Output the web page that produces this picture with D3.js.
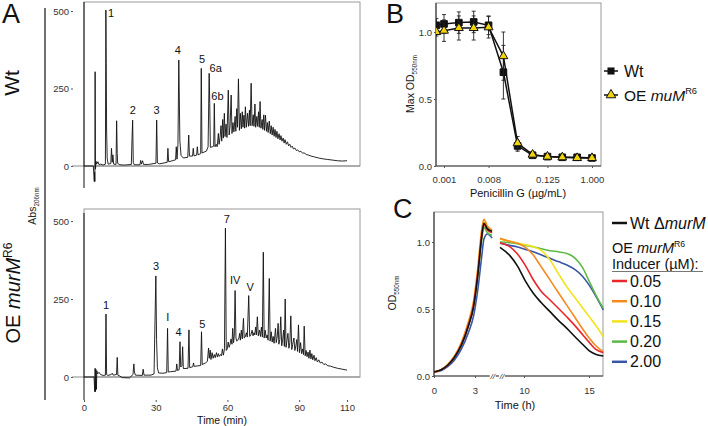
<!DOCTYPE html>
<html>
<head>
<meta charset="utf-8">
<script src="https://cdn.jsdelivr.net/npm/d3@7"></script>
<style>
  body { margin: 0; background: #fff; }
  text { font-family: "Liberation Sans", Arial, Helvetica, sans-serif; }
</style>
</head>
<body>
<svg id="fig" width="708" height="426"></svg>
<script>
// ---- panel A: HPLC traces, [time (min), Abs206nm]
const wtTrace = [
  [0,0],[3.9,0],[4.3,-50],[4.45,-20],[4.55,-50],[4.65,304],[4.8,-10],[5.0,15],[5.3,6],[5.8,14],[6.3,4],[7,6],[8,3],[8.95,6],
  [9.15,503],[9.3,330],[9.45,116],[9.7,25],[10.1,6],[11.2,8],[11.5,57],[11.8,12],[12.1,36],[12.4,6],[13.4,5],[13.65,146],[13.9,40],[14.1,8],
  [15,4],[17,3],[19.8,5],[20.1,90],[20.35,148],[20.6,12],[21,4],[23.4,4],[23.7,18],[24,6],[24.5,17],[24.9,5],[27,5],[30.1,9],[30.4,148],[30.7,10],
  [31.5,7],[33,9],[34.8,12],[35.1,57],[35.4,14],[36.5,16],[38.3,20],[38.6,62],[38.9,22],[39.3,70],[39.65,342],[40.1,80],[40.6,34],[41.5,26],
  [43.4,28],[43.8,100],[44.1,32],[45.4,32],[45.7,57],[46,33],[47.1,35],[47.4,62],[47.7,36],[48.8,40],[49.05,315],[49.35,42],[51.2,48],[51.9,62],
  [52.35,299],[52.6,202],[52.85,60],[53.6,62],[54.25,64],[54.5,202],[54.8,62],
  [55.3,70],[55.7,62],[56.2,105],[56.5,70],[56.9,92],[57.3,130],[57.6,80],[58.0,150],[58.3,90],[58.7,170],[59.0,95],[59.4,135],[59.8,92],
  [60.35,245],[60.7,100],[61.1,130],[61.55,229],[61.9,105],[62.3,140],[62.7,110],[63.2,160],[63.5,112],[63.9,185],[64.2,125],[64.6,281],
  [65.0,115],[65.4,170],[65.8,120],[66.2,175],[66.5,125],[66.9,164],[67.2,122],[67.5,191],[67.9,125],[68.4,170],[68.8,128],[69.2,180],
  [69.5,130],[69.9,267],[70.3,130],[70.8,165],[71.1,128],[71.5,200],[71.8,125],[72.3,160],[72.6,128],[73.0,175],[73.3,125],[73.65,208],
  [74.0,122],[74.5,150],[74.8,118],[75.2,165],[75.5,115],[75.9,164],[76.3,112],[76.7,140],[77.0,108],[77.5,145],[77.9,104],[78.3,130],
  [78.7,100],[79.1,125],[79.5,96],[79.9,118],[80.3,92],[80.7,112],[81.1,88],[81.6,104],[82.0,84],[82.4,98],[82.8,80],[83.3,90],[83.7,74],
  [84.1,85],[84.6,70],[85.1,78],[85.6,65],[86.1,70],[86.6,60],[87.1,64],[87.6,55],[88.2,58],[88.8,50],[89.4,52],[90,46],[90.7,47],[91.4,42],
  [92.1,42],[93,37],[94,35],[95,32],[96.5,29],[98,26],[100,23],[102,21],[104,19],[106,17],[108,16],[110,17]
];
const oeTrace = [
  [0,0],[4.2,0],[4.5,-47],[4.65,28],[4.8,-47],[4.95,25],[5.2,-40],[5.35,20],[5.7,10],[6.3,15],[6.9,8],[8,5],[8.95,6],[9.2,202],[9.45,8],
  [10,5],[11.4,8],[11.8,12],[12.2,6],[13.6,8],[13.9,63],[14.15,6],[15,3],[16,-2],[19,-3],[20.5,8],[20.85,42],[21.1,16],[21.5,6],[24.4,5],
  [24.75,25],[25.1,6],[28,6],[29.3,10],[29.7,180],[30.05,324],[30.35,120],[30.7,30],[31.2,13],[33,12],[34.6,14],[34.95,156],[35.25,16],
  [36.2,17],[38.5,19],[38.8,42],[39.1,21],[39.8,23],[40.15,113],[40.45,32],[40.95,36],[41.25,97],[41.55,27],[43.5,28],[43.9,151],[44.2,30],
  [45.5,33],[45.8,45],[46.1,34],[48.8,37],[49.15,145],[49.45,40],[50.8,45],[51.6,50],[52.1,93],[52.4,60],[52.8,86],[53.1,56],
  [53.6,78],[54.0,60],[54.5,72],[54.9,62],[55.4,78],[55.8,64],[56.2,75],[56.6,66],[57.1,72],[57.5,68],[57.9,90],[58.3,70],[58.75,90],
  [59.15,477],[59.5,85],[59.9,90],[60.3,112],[60.7,95],[61.1,105],[61.5,122],[61.9,105],[62.2,156],[62.55,110],[62.85,130],[63.2,277],
  [63.55,125],[63.9,115],[64.3,118],[64.8,125],[65.1,140],[65.4,118],[65.8,150],[66.2,122],[66.7,188],[67.0,125],[67.4,128],[67.9,142],
  [68.3,128],[68.9,261],[69.3,130],[69.8,135],[70.3,150],[70.7,132],[71.1,142],[71.4,135],[71.8,160],[72.1,135],[72.5,193],[72.9,132],
  [73.4,150],[73.8,130],[74.2,160],[74.6,128],[75.0,400],[75.35,125],[75.8,150],[76.2,125],[76.6,135],[77.0,118],[77.5,316],[77.85,115],
  [78.3,145],[78.7,112],[79.1,130],[79.5,108],[80.1,156],[80.4,110],[80.8,128],[81.2,172],[81.5,105],[81.9,120],[82.3,193],[82.7,100],
  [83.1,120],[83.5,150],[83.8,98],[84.15,250],[84.5,95],[84.9,118],[85.3,140],[85.7,92],[86.1,110],[86.5,196],[86.9,88],[87.3,105],
  [87.8,125],[88.2,85],[88.6,100],[89.0,120],[89.3,82],[89.7,167],[90.1,78],[90.6,110],[91.0,75],[91.4,90],[91.8,72],[92.1,163],[92.5,68],
  [92.9,85],[93.3,65],[93.7,80],[94.1,60],[94.5,86],[94.9,58],[95.3,75],[95.7,55],[96.2,70],[96.6,52],[97.1,62],[97.6,48],[98.2,55],
  [98.8,45],[99.5,48],[100.3,40],[101,42],[102,36],[103,35],[104.5,31],[106,28],[108,25],[110,22]
];
// peak labels: [text, time, abs]
const wtPeaks = [["1",11.3,494],["2",20.4,181],["3",30.4,181],["4",39.2,374],["5",49.4,344],["6a",55.1,315],["6b",55.8,224]];
const oePeaks = [["1",9.2,231],["3",30.1,354],["I",35.0,192],["4",39.5,145],["5",49.5,170],["7",59.7,505],["IV",63.2,309],["V",69.5,289]];
const hplcTicksY = [0, 250, 500];
const hplcTicksX = [0, 30, 60, 90, 110];

// ---- panel B: max OD vs penicillin G
const penConc = [0.0007, 0.001, 0.002, 0.004, 0.008, 0.016, 0.031, 0.0625, 0.125, 0.25, 0.5, 1.0];
const wtMaxOD = [1.05, 1.06, 1.07, 1.075, 1.05, 0.70, 0.15, 0.08, 0.07, 0.065, 0.065, 0.06];
const wtErr   = [0.05, 0.07, 0.08, 0.08, 0.07, 0.20, 0.04, 0.02, 0.01, 0.01, 0.01, 0.01];
const oeMaxOD = [1.00, 1.01, 1.03, 1.03, 1.035, 0.82, 0.17, 0.085, 0.07, 0.065, 0.06, 0.06];
const oeErr   = [0.03, 0.08, 0.09, 0.09, 0.08, 0.18, 0.05, 0.02, 0.01, 0.01, 0.01, 0.01];
const penTicks = [0.001, 0.008, 0.125, 1.0];

// ---- panel C: growth (0-4.25 h) and lysis (8-16 h) curves
const growthTime = [0, 0.5, 1.0, 1.5, 2.0, 2.5, 2.9, 3.2, 3.5, 3.65, 3.9, 4.25];
const lysisTime = [8.15, 8.9, 9.5, 10.1, 10.7, 11.3, 12.0, 12.7, 13.3, 13.9, 14.5, 15.0, 15.5, 16.1];
const doses = ["0.05", "0.10", "0.15", "0.20", "2.00"];
const doseColors = ["#e8262b", "#f58a1f", "#f3e31a", "#5cb946", "#3a56a5"];
const growthWt = [0.03, 0.045, 0.08, 0.14, 0.23, 0.37, 0.52, 0.75, 1.05, 1.14, 1.10, 1.08];
const growthOE = [
  [0.03, 0.045, 0.08, 0.14, 0.23, 0.37, 0.53, 0.76, 1.05, 1.13, 1.09, 1.07],
  [0.03, 0.045, 0.085, 0.15, 0.25, 0.40, 0.56, 0.80, 1.10, 1.17, 1.12, 1.09],
  [0.03, 0.045, 0.085, 0.15, 0.24, 0.39, 0.55, 0.79, 1.08, 1.15, 1.11, 1.08],
  [0.03, 0.045, 0.08, 0.14, 0.23, 0.37, 0.52, 0.74, 1.02, 1.11, 1.07, 1.05],
  [0.03, 0.04, 0.07, 0.12, 0.20, 0.32, 0.45, 0.64, 0.90, 1.02, 1.06, 1.03]
];
const lysisWt = [0.96, 0.90, 0.82, 0.71, 0.62, 0.55, 0.48, 0.41, 0.355, 0.295, 0.237, 0.19, 0.163, 0.149];
const lysisOE = [
  [0.995, 0.965, 0.91, 0.825, 0.72, 0.635, 0.567, 0.50, 0.44, 0.378, 0.31, 0.253, 0.20, 0.174],
  [1.027, 1.005, 0.99, 0.96, 0.905, 0.818, 0.717, 0.614, 0.527, 0.44, 0.353, 0.285, 0.228, 0.181],
  [1.02, 1.005, 0.993, 0.98, 0.965, 0.94, 0.866, 0.755, 0.665, 0.587, 0.51, 0.445, 0.38, 0.294],
  [1.0, 0.995, 0.988, 0.975, 0.965, 0.95, 0.935, 0.926, 0.914, 0.882, 0.81, 0.71, 0.61, 0.505],
  [0.99, 0.975, 0.963, 0.945, 0.928, 0.905, 0.878, 0.852, 0.828, 0.795, 0.745, 0.68, 0.60, 0.493]
];

const svg = d3.select("#fig");

const styleAxis = g => {
  g.select(".domain").remove();
  g.selectAll("line").attr("stroke", "#555");
  g.selectAll("text").attr("font-size", 9.5).attr("fill", "#333")
    .attr("font-family", '"Liberation Sans", Arial, sans-serif');
};
// text made of parts: {t, i: italic, sup, sub}
const rich = (sel, parts, size) => {
  parts.forEach(p => {
    const s = sel.append("tspan").text(p.t);
    if (p.i) s.attr("font-style", "italic");
    if (p.sup) s.attr("font-size", size * 0.6).attr("dy", -size * 0.4);
    if (p.sub) s.attr("font-size", size * 0.6).attr("dy", size * 0.28);
  });
  return sel;
};
const hline = (x1, x2, y, c, w) => svg.append("line").attr("x1", x1).attr("x2", x2).attr("y1", y).attr("y2", y).attr("stroke", c).attr("stroke-width", w || 1);
const vline = (x, y1, y2, c, w) => svg.append("line").attr("x1", x).attr("x2", x).attr("y1", y1).attr("y2", y2).attr("stroke", c).attr("stroke-width", w || 1);
const label = (x, y, txt, size) => svg.append("text").attr("x", x).attr("y", y).attr("font-size", size).attr("fill", "#111").text(txt);

// ================= A =================
const xA = d3.scaleLinear().domain([0, 110]).range([84, 347]);
const yAtop = d3.scaleLinear().domain([0, 500]).range([166, 11]);
const yAbot = d3.scaleLinear().domain([0, 500]).range([377, 221]);

[[yAtop, 2], [yAbot, 209]].forEach(([y, top]) => {
  svg.append("rect").attr("x", 84).attr("y", top).attr("width", 276).attr("height", y(0) - top)
    .attr("fill", "none").attr("stroke", "#9a9a9a");
  hline(72, 360, y(0), "#8a8a8a");
  svg.append("g").attr("transform", "translate(73,0)")
    .call(d3.axisLeft(y).tickValues(hplcTicksY).tickSize(2).tickPadding(2)).call(styleAxis);
});
vline(84, 2, 188, "#111");
vline(84, 213, 400, "#111");
vline(45, 8, 400, "#111", 1.2);
svg.append("g").attr("transform", "translate(0,400)")
  .call(d3.axisBottom(xA).tickValues(hplcTicksX).tickSize(2).tickPadding(2)).call(styleAxis);

[[wtTrace, yAtop, wtPeaks], [oeTrace, yAbot, oePeaks]].forEach(([tr, y, peaks]) => {
  svg.append("path").datum(tr).attr("fill", "none").attr("stroke", "#111").attr("stroke-width", 0.9)
    .attr("stroke-linejoin", "round")
    .attr("d", d3.line().x(d => xA(d[0])).y(d => y(d[1])));
  svg.selectAll(null).data(peaks).enter().append("text")
    .attr("x", d => xA(d[1])).attr("y", d => y(d[2])).attr("dy", "0.35em")
    .attr("text-anchor", "middle").attr("font-size", 11).attr("fill", "#111")
    .text(d => d[0]);
});

label(2, 22.7, "A", 27);
label(222, 424, "Time (min)", 10.5).attr("text-anchor", "middle");
svg.append("text").attr("transform", "translate(19,83) rotate(-90)").attr("text-anchor", "middle")
  .attr("font-size", 21).attr("fill", "#111").text("Wt");
rich(svg.append("text").attr("transform", "translate(20,293) rotate(-90)").attr("text-anchor", "middle")
  .attr("font-size", 20).attr("fill", "#111"),
  [{t: "OE "}, {t: "murM", i: true}, {t: "R6", sup: true}], 20);
rich(svg.append("text").attr("transform", "translate(36,206) rotate(-90)").attr("text-anchor", "middle")
  .attr("font-size", 10.5).attr("fill", "#222"),
  [{t: "Abs"}, {t: "206nm", sub: true}], 10.5);

// ================= B =================
const xB = d3.scaleLog().base(2).domain([0.001, 1.0]).range([444, 592]);
const yB = d3.scaleLinear().domain([0, 1]).range([166, 32]);
svg.append("rect").attr("x", 436).attr("y", 3).attr("width", 165).attr("height", 163)
  .attr("fill", "none").attr("stroke", "#9a9a9a");
vline(436, 3, 166, "#222");
hline(436, 601, 166, "#444");
svg.append("g").attr("transform", "translate(436,0)")
  .call(d3.axisLeft(yB).tickValues([0, 0.5, 1.0]).tickFormat(d3.format(".1f")).tickSize(2).tickPadding(2)).call(styleAxis);
svg.append("g").attr("transform", "translate(0,166)")
  .call(d3.axisBottom(xB).tickValues(penTicks).tickFormat(d => d.toFixed(3)).tickSize(2).tickPadding(8)).call(styleAxis);

svg.append("clipPath").attr("id", "clipB").append("rect").attr("x", 436).attr("y", 0).attr("width", 180).attr("height", 175);
const gB = svg.append("g").attr("clip-path", "url(#clipB)");
const bSeries = [
  {v: wtMaxOD, e: wtErr, shape: d3.symbolSquare, size: 44, fill: "#111"},
  {v: oeMaxOD, e: oeErr, shape: d3.symbolTriangle, size: 34, fill: "#f2d40c"}
];
bSeries.forEach(s => {
  const pts = penConc.map((c, i) => ({c, v: s.v[i], e: s.e[i]}));
  gB.selectAll(null).data(pts).enter().append("path")
    .attr("d", d => `M${xB(d.c)},${yB(d.v + d.e)}V${yB(d.v - d.e)}M${xB(d.c) - 2},${yB(d.v + d.e)}h4M${xB(d.c) - 2},${yB(d.v - d.e)}h4`)
    .attr("stroke", "#222").attr("stroke-width", 0.9).attr("fill", "none");
  gB.append("path").datum(pts).attr("fill", "none").attr("stroke", "#111").attr("stroke-width", 1.5)
    .attr("d", d3.line().x(d => xB(d.c)).y(d => yB(d.v)));
  gB.selectAll(null).data(pts).enter().append("path")
    .attr("transform", d => `translate(${xB(d.c)},${yB(d.v)})`)
    .attr("d", d3.symbol(s.shape, s.size)).attr("fill", s.fill).attr("stroke", "#111").attr("stroke-width", 1);
});

label(386, 23.3, "B", 27);
label(518, 197, "Penicillin G (µg/mL)", 11).attr("text-anchor", "middle");
rich(svg.append("text").attr("transform", "translate(414,84) rotate(-90)").attr("text-anchor", "middle")
  .attr("font-size", 10.5).attr("fill", "#222"),
  [{t: "Max OD"}, {t: "550nm", sub: true}], 10.5);

// legend B
hline(604, 618, 71, "#111", 1.5);
svg.append("path").attr("transform", "translate(611,71)").attr("d", d3.symbol(d3.symbolSquare, 50)).attr("fill", "#111");
label(624, 76.7, "Wt", 16);
hline(604, 618, 95, "#111", 1.5);
svg.append("path").attr("transform", "translate(611,95)").attr("d", d3.symbol(d3.symbolTriangle, 40))
  .attr("fill", "#f2d40c").attr("stroke", "#111");
rich(label(624, 100.5, "", 15.5), [{t: "OE "}, {t: "muM", i: true}, {t: "R6", sup: true}], 15.5);

// ================= C =================
const xC1 = d3.scaleLinear().domain([0, 3]).range([434, 475]);
const xC2 = d3.scaleLinear().domain([10, 15]).range([524, 589]);
const yC = d3.scaleLinear().domain([0, 1]).range([376, 242]);
svg.append("rect").attr("x", 434).attr("y", 212).attr("width", 169).attr("height", 164)
  .attr("fill", "none").attr("stroke", "#9a9a9a");
vline(434, 212, 376, "#222");
hline(434, 603, 376, "#444");
svg.append("g").attr("transform", "translate(434,0)")
  .call(d3.axisLeft(yC).tickValues([0, 0.5, 1.0]).tickFormat(d3.format(".1f")).tickSize(2).tickPadding(2)).call(styleAxis);
svg.append("g").attr("transform", "translate(0,376)")
  .call(d3.axisBottom(xC1).tickValues([0, 3]).tickFormat(d3.format("d")).tickSize(2).tickPadding(9)).call(styleAxis);
svg.append("g").attr("transform", "translate(0,376)")
  .call(d3.axisBottom(xC2).tickValues([10, 15]).tickFormat(d3.format("d")).tickSize(2).tickPadding(9)).call(styleAxis);
// axis break marks
[xC1(4.3), xC2(8.3)].forEach(x => {
  svg.append("rect").attr("x", x - 3).attr("y", 372).attr("width", 6).attr("height", 8).attr("fill", "#fff");
  svg.append("text").attr("x", x).attr("y", 379).attr("text-anchor", "middle").attr("font-size", 8)
    .attr("font-style", "italic").attr("fill", "#222").text("//");
});

const curves = [];
doses.forEach((d, k) => curves.push({g: growthOE[k], l: lysisOE[k], c: doseColors[k]}));
curves.reverse();
curves.push({g: growthWt, l: lysisWt, c: "#111"});
curves.forEach(s => {
  svg.append("path").datum(growthTime.map((t, i) => [t, s.g[i]])).attr("fill", "none")
    .attr("stroke", s.c).attr("stroke-width", 1.6)
    .attr("d", d3.line().curve(d3.curveMonotoneX).x(d => xC1(d[0])).y(d => yC(d[1])));
  svg.append("path").datum(lysisTime.map((t, i) => [t, s.l[i]])).attr("fill", "none")
    .attr("stroke", s.c).attr("stroke-width", 1.6)
    .attr("d", d3.line().curve(d3.curveMonotoneX).x(d => xC2(d[0])).y(d => yC(d[1])));
});

label(393, 218, "C", 27);
label(515, 409, "Time (h)", 11).attr("text-anchor", "middle");
rich(svg.append("text").attr("transform", "translate(396,293) rotate(-90)").attr("text-anchor", "middle")
  .attr("font-size", 10.5).attr("fill", "#222"),
  [{t: "OD"}, {t: "550nm", sub: true}], 10.5);

// legend C
hline(612, 627, 223, "#111", 2.5);
rich(label(630, 228.5, "", 16), [{t: "Wt Δ"}, {t: "murM", i: true}], 16);
rich(label(612, 252.5, "", 14.5), [{t: "OE "}, {t: "murM", i: true}, {t: "R6", sup: true}], 14.5);
label(612, 269, "Inducer (µM):", 14.5);
hline(612, 703, 271.5, "#777", 1);
doses.forEach((d, k) => {
  const y = 281 + k * 20.2;
  hline(612, 627, y, doseColors[k], 2.5);
  label(630, y + 5.5, d, 16);
});
</script>
</body>
</html>
